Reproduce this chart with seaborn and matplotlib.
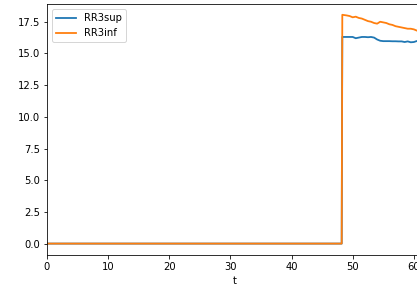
import numpy as np
import pandas as pd
import matplotlib
matplotlib.use("Agg")
import matplotlib.pyplot as plt
import seaborn as sns

# time points
t = [0, 48.2, 48.3, 49.0, 49.5, 50.0, 50.5, 51.0, 51.5, 52.0, 52.5, 53.0, 53.5,
     54.0, 54.5, 55.0, 55.5, 56.0, 56.5, 57.0, 57.5, 58.0, 58.5, 59.0, 59.5,
     60.0, 60.5, 61.0, 61.5]
rr3sup = [0, 0, 16.3, 16.3, 16.3, 16.3, 16.2, 16.25, 16.3, 16.3, 16.28, 16.3, 16.25,
          16.1, 16.0, 15.97, 15.97, 15.97, 15.96, 15.96, 15.95, 15.95, 15.9, 15.95,
          15.88, 15.9, 15.98, 16.0, 16.0]
rr3inf = [0, 0, 18.05, 18.0, 17.95, 17.85, 17.9, 17.8, 17.75, 17.65, 17.55, 17.5, 17.4,
          17.35, 17.5, 17.45, 17.4, 17.3, 17.25, 17.15, 17.1, 17.05, 17.0, 16.95,
          16.95, 16.9, 16.8, 16.75, 16.7]

df = pd.DataFrame({"t": t, "RR3sup": rr3sup, "RR3inf": rr3inf})
long = df.melt(id_vars="t", var_name="series", value_name="value")

fig = plt.figure(figsize=(417 / 72, 288 / 72), dpi=72)
ax = fig.add_axes([47 / 417, 33 / 288, 376 / 417, 251 / 288])

sns.lineplot(data=long, x="t", y="value", hue="series",
             palette=["#1f77b4", "#ff7f0e"], linewidth=1.8, ax=ax)

ax.set_xlim(0, 61.5)
ax.set_ylim(-0.9, 18.9)
ax.set_yticks(np.arange(0, 18, 2.5))
ax.set_xlabel("t")
ax.set_ylabel("")
ax.legend(title=None, loc="upper left")

fig.savefig("out.png", dpi=72)
